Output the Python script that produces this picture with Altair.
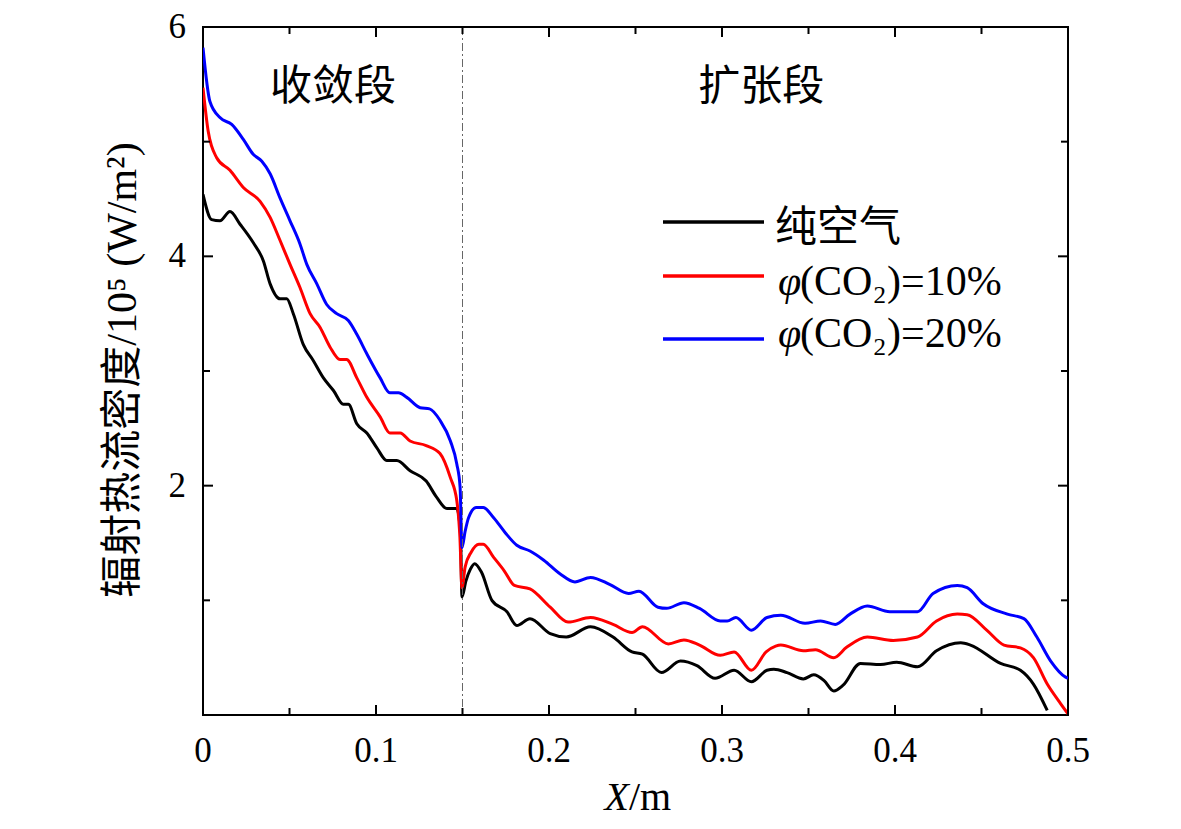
import altair as alt
import pandas as pd

# ---------------- data ----------------
series_names = ["纯空气", "φ(CO₂)=10%", "φ(CO₂)=20%"]
series_colors = ["#000000", "#ff0000", "#0000ff"]

black_x = [0.000, 0.005, 0.0098, 0.0156, 0.0214, 0.029, 0.0349, 0.0388, 0.0445, 0.0484,
           0.0522, 0.058, 0.0638, 0.0696, 0.0754, 0.0811, 0.084, 0.0889, 0.0947, 0.1005,
           0.1062, 0.112, 0.1197, 0.129, 0.135, 0.141, 0.1467, 0.1488, 0.1497, 0.152,
           0.1545, 0.157, 0.161, 0.167, 0.1757, 0.1814, 0.189, 0.2007, 0.210, 0.224,
           0.237, 0.248, 0.254, 0.265, 0.276, 0.2855, 0.296, 0.307, 0.317, 0.326,
           0.330, 0.3376, 0.347, 0.353, 0.359, 0.3646, 0.370, 0.380, 0.3916, 0.401,
           0.413, 0.424, 0.438, 0.4436, 0.461, 0.4725, 0.480, 0.488]
black_y = [4.54, 4.32, 4.31, 4.39, 4.28, 4.12, 3.96, 3.76, 3.63, 3.63,
           3.50, 3.23, 3.09, 2.94, 2.83, 2.71, 2.71, 2.54, 2.46, 2.33,
           2.22, 2.22, 2.13, 2.04, 1.90, 1.80, 1.80, 1.60, 1.03, 1.17,
           1.27, 1.32, 1.245, 1.00, 0.90, 0.78, 0.84, 0.71, 0.68, 0.77,
           0.68, 0.55, 0.53, 0.37, 0.47, 0.43, 0.32, 0.39, 0.29, 0.39,
           0.40, 0.37, 0.315, 0.35, 0.30, 0.21, 0.26, 0.45, 0.44, 0.46,
           0.42, 0.56, 0.63, 0.61, 0.45, 0.39, 0.27, 0.04]

red_x = [0.000, 0.003, 0.0079, 0.0156, 0.0233, 0.033, 0.0388, 0.0445, 0.0503, 0.056,
         0.0619, 0.0677, 0.0734, 0.0792, 0.083, 0.0889, 0.0947, 0.1024, 0.108, 0.114,
         0.1197, 0.129, 0.137, 0.143, 0.1467, 0.1485, 0.1497, 0.1515, 0.155, 0.1595,
         0.162, 0.168, 0.174, 0.180, 0.189, 0.2007, 0.211, 0.224, 0.237, 0.248,
         0.254, 0.269, 0.278, 0.287, 0.299, 0.307, 0.317, 0.3255, 0.331, 0.334,
         0.347, 0.354, 0.3646, 0.372, 0.384, 0.399, 0.413, 0.424, 0.436, 0.4417,
         0.453, 0.463, 0.4725, 0.480, 0.488, 0.4957, 0.500]
red_y = [5.47, 5.09, 4.86, 4.75, 4.60, 4.48, 4.34, 4.14, 3.93, 3.73,
         3.50, 3.38, 3.21, 3.10, 3.10, 2.94, 2.77, 2.60, 2.46, 2.46,
         2.39, 2.35, 2.28, 2.07, 1.87, 1.55, 1.11, 1.29, 1.42, 1.49,
         1.49, 1.375, 1.26, 1.13, 1.10, 0.94, 0.81, 0.85, 0.79, 0.72,
         0.77, 0.62, 0.655, 0.61, 0.52, 0.55, 0.39, 0.55, 0.60, 0.61,
         0.56, 0.57, 0.50, 0.59, 0.68, 0.65, 0.68, 0.82, 0.88, 0.875,
         0.74, 0.61, 0.585, 0.50, 0.27, 0.10, 0.01]

blue_x = [0.000, 0.004, 0.0098, 0.0166, 0.0233, 0.029, 0.034, 0.0388, 0.0445, 0.0503,
          0.056, 0.060, 0.0658, 0.0715, 0.0773, 0.084, 0.0889, 0.0947, 0.1024, 0.108,
          0.113, 0.1178, 0.1255, 0.131, 0.137, 0.143, 0.1467, 0.1486, 0.1497, 0.1515,
          0.1535, 0.158, 0.162, 0.168, 0.1747, 0.1814, 0.189, 0.197, 0.2065, 0.215,
          0.224, 0.235, 0.246, 0.252, 0.263, 0.268, 0.278, 0.287, 0.299, 0.303,
          0.308, 0.317, 0.326, 0.334, 0.348, 0.357, 0.3655, 0.374, 0.384, 0.397,
          0.413, 0.422, 0.436, 0.4417, 0.451, 0.465, 0.4745, 0.482, 0.490, 0.4986, 0.500]
blue_y = [5.82, 5.35, 5.21, 5.15, 5.02, 4.89, 4.83, 4.72, 4.51, 4.31,
          4.11, 3.93, 3.76, 3.58, 3.50, 3.44, 3.32, 3.15, 2.94, 2.81,
          2.81, 2.77, 2.68, 2.67, 2.57, 2.39, 2.19, 1.99, 1.46, 1.60,
          1.72, 1.81, 1.81, 1.72, 1.59, 1.48, 1.43, 1.35, 1.23, 1.16,
          1.20, 1.14, 1.06, 1.08, 0.94, 0.93, 0.98, 0.93, 0.82, 0.82,
          0.85, 0.74, 0.85, 0.87, 0.80, 0.82, 0.79, 0.88, 0.95, 0.90,
          0.90, 1.06, 1.13, 1.11, 0.97, 0.88, 0.84, 0.68, 0.47, 0.33, 0.32]

x_major = [0, 0.1, 0.2, 0.3, 0.4, 0.5]
x_minor = [0.05, 0.15, 0.25, 0.35, 0.45]
x_labels = ["0", "0.1", "0.2", "0.3", "0.4", "0.5"]
y_major = [2, 4]
y_minor = [1, 3, 5]
y_label_vals = [2, 4, 6]
y_labels = ["2", "4", "6"]
y_title = "辐射热流密度/10⁵ (W/m²)"
divider_x = [0.15]

region_labels = ["收敛段", "扩张段"]
region_x = [0.0752, 0.3227]
region_y = [5.48, 5.48]

# ---------------- build tables ----------------
rows = []
for name, xs, ys in zip(series_names, [black_x, red_x, blue_x], [black_y, red_y, blue_y]):
    for xv, yv in zip(xs, ys):
        rows.append({"series": name, "x": xv, "y": yv})
df = pd.DataFrame(rows)

W, H = 865, 688
SERIF = "Liberation Serif"
MIXED = "Liberation Serif, Noto Sans CJK SC"
xs_ = alt.Scale(domain=[0, 0.5], nice=False, zero=False)
ys_ = alt.Scale(domain=[0, 6], nice=False, zero=False)


def X(f):
    return alt.X(f, scale=xs_, axis=None)


def Y(f):
    return alt.Y(f, scale=ys_, axis=None)


lines = alt.Chart(df).mark_line(strokeWidth=3, interpolate="monotone", clip=True).encode(
    x=X("x:Q"),
    y=Y("y:Q"),
    color=alt.Color("series:N", scale=alt.Scale(domain=series_names, range=series_colors),
                    legend=None),
)

divider = alt.Chart(pd.DataFrame({"x": divider_x})).mark_rule(
    color="#666666", strokeWidth=1, strokeDash=[8, 3, 2, 3]).encode(x=X("x:Q"))


def vticks(vals, length, top):
    d = pd.DataFrame({"x": vals})
    if top:
        return alt.Chart(d).mark_rule(color="black", strokeWidth=2).encode(
            x=X("x:Q"), y=alt.value(0), y2=alt.value(length))
    return alt.Chart(d).mark_rule(color="black", strokeWidth=2).encode(
        x=X("x:Q"), y=alt.value(H), y2=alt.value(H - length))


def hticks(vals, length, right):
    d = pd.DataFrame({"y": vals})
    if right:
        return alt.Chart(d).mark_rule(color="black", strokeWidth=2).encode(
            y=Y("y:Q"), x=alt.value(W), x2=alt.value(W - length))
    return alt.Chart(d).mark_rule(color="black", strokeWidth=2).encode(
        y=Y("y:Q"), x=alt.value(0), x2=alt.value(length))


ticks = [
    vticks(x_major, 10, False), vticks(x_minor, 7, False),
    vticks(x_major, 10, True), vticks(x_minor, 7, True),
    hticks(y_major, 10, False), hticks(y_minor, 7, False),
    hticks(y_major, 10, True), hticks(y_minor, 7, True),
]

# tick labels: one text layer per label, positioned through the scales
label_layers = []
for v, t in zip(x_major, x_labels):
    label_layers.append(alt.Chart(pd.DataFrame({"x": [v]})).mark_text(
        text=t, font=SERIF, fontSize=35, color="black", align="center", baseline="top").encode(
        x=X("x:Q"), y=alt.value(H + 19)))
for v, t in zip(y_label_vals, y_labels):
    label_layers.append(alt.Chart(pd.DataFrame({"y": [v]})).mark_text(
        text=t, font=SERIF, fontSize=35, color="black", align="right", baseline="middle").encode(
        y=Y("y:Q"), x=alt.value(-17)))

one = alt.Data(values=[{"a": 1}])

ytitle = alt.Chart(one).mark_text(
    text=y_title, font=MIXED, fontSize=42, color="black", align="center", baseline="middle",
    angle=270).encode(x=alt.value(-80), y=alt.value(343))

regions = alt.Chart(pd.DataFrame({"t": region_labels, "x": region_x, "y": region_y})).mark_text(
    font=MIXED, fontSize=42, color="black", baseline="middle", align="center").encode(
    x=X("x:Q"), y=Y("y:Q"), text="t:N")

# x-axis title: italic X + "/m"
xt1 = alt.Chart(one).mark_text(text="X", font=SERIF, fontSize=40, fontStyle="italic",
                               align="right", baseline="alphabetic", color="black").encode(
    x=alt.value(426), y=alt.value(783))
xt2 = alt.Chart(one).mark_text(text="/m", font=SERIF, fontSize=40,
                               align="left", baseline="alphabetic", color="black").encode(
    x=alt.value(426), y=alt.value(783))

# legend (drawn manually so the spacing matches)
leg_line_y = [195, 249, 312]
leg_text_y = [201, 255, 307]
legend_layers = []
for i, (name, col) in enumerate(zip(series_names, series_colors)):
    legend_layers.append(alt.Chart(one).mark_rule(color=col, strokeWidth=3.5).encode(
        x=alt.value(460), x2=alt.value(561), y=alt.value(leg_line_y[i])))
    if i == 0:
        legend_layers.append(alt.Chart(one).mark_text(
            text=name, font=MIXED, fontSize=42, align="left", baseline="middle",
            color="black").encode(x=alt.value(572), y=alt.value(leg_text_y[i])))
    else:
        legend_layers.append(alt.Chart(one).mark_text(
            text="φ", font=SERIF, fontSize=42, fontStyle="italic", align="left",
            baseline="middle", color="black").encode(x=alt.value(575), y=alt.value(leg_text_y[i])))
        legend_layers.append(alt.Chart(one).mark_text(
            text=name[1:], font=SERIF, fontSize=42, align="left", baseline="middle",
            color="black").encode(x=alt.value(597), y=alt.value(leg_text_y[i])))

chart = alt.layer(lines, divider, *ticks, *label_layers, ytitle, regions, xt1, xt2,
                  *legend_layers).properties(
    width=W, height=H,
    autosize=alt.AutoSizeParams(type="none"),
    padding={"left": 195, "top": 19, "right": 100, "bottom": 105},
).configure(background="white").configure_view(stroke="black", strokeWidth=2)

chart.save("out.html", embed_options={"renderer": "svg", "actions": False})
